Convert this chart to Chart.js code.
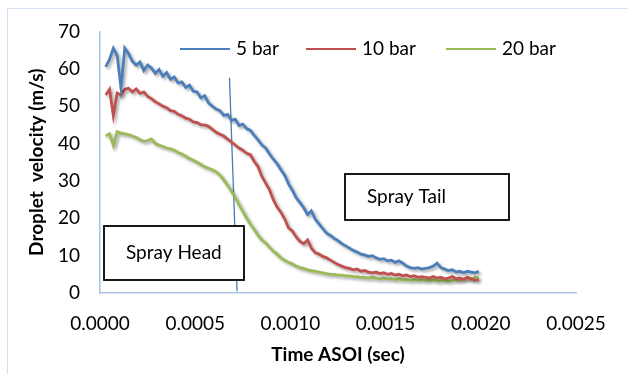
<!DOCTYPE html>
<html>
<head>
<meta charset="utf-8">
<script src="https://cdn.jsdelivr.net/npm/chart.js@4.4.1/dist/chart.umd.min.js"></script>
<style>
html,body{margin:0;padding:0;background:#fff;}
#wrap{position:relative;width:628px;height:374px;overflow:hidden;}
#frame{position:absolute;left:7px;top:8px;width:700px;height:500px;border-left:1px solid #d6e2f2;border-top:1px solid #d6e2f2;}
canvas{position:absolute;left:0;top:0;}
</style>
</head>
<body>
<div id="wrap">
<div id="frame"></div>
<canvas id="c" width="628" height="374"></canvas>
</div>
<script>
// time after start of injection, sec (one sample every 0.00002 s)
let times=[];
for(let i=0;i<99;i++) times.push(+(0.00003+i*0.00002).toFixed(5));

let bar5=[60.5,62.5,65.5,63.5,55.0,65.5,64.0,62.0,61.0,61.8,
59.5,61.0,60.2,58.8,59.8,58.0,59.0,57.2,57.8,56.2,
56.5,55.0,55.6,54.0,53.8,52.2,52.8,50.8,50.0,49.2,
48.8,47.5,47.8,46.2,46.5,44.8,45.2,44.0,43.5,42.2,
41.0,39.6,38.8,37.2,35.8,34.6,33.0,31.5,29.2,27.5,
25.5,24.2,22.8,21.0,22.0,19.8,18.5,17.2,16.0,15.4,
14.6,14.0,13.2,12.6,12.0,11.4,11.0,10.4,10.2,9.8,
10.0,9.4,9.0,9.2,8.6,8.8,8.2,8.6,8.0,7.2,
6.8,6.6,6.8,6.4,6.6,6.8,7.2,8.0,6.8,6.4,
6.0,6.2,5.6,5.8,5.4,5.8,5.6,5.4,5.8];

let bar10=[53.0,54.5,47.5,53.5,53.0,54.5,54.8,53.8,54.6,53.4,
53.8,52.6,52.0,51.2,50.6,50.0,49.6,48.8,48.6,47.8,
47.4,46.8,46.5,45.8,45.6,45.0,45.0,44.6,43.8,43.0,
42.5,42.0,41.2,40.4,39.6,38.8,38.2,37.4,37.0,35.2,
33.8,31.2,29.4,27.6,25.0,23.0,21.6,19.8,17.4,16.6,
15.0,13.8,13.2,14.2,12.0,10.8,10.4,9.8,9.4,8.8,
8.2,7.6,7.2,6.8,6.6,6.2,6.4,5.8,6.0,5.6,
5.4,5.6,5.2,5.4,5.0,5.2,4.8,5.0,4.6,4.8,
4.4,4.6,4.2,4.4,4.2,4.0,4.4,4.0,4.2,3.8,
4.0,4.4,3.8,4.0,3.6,4.2,3.8,3.4,3.6];

let bar20=[42.0,42.6,39.5,43.2,42.8,42.6,42.4,42.0,41.6,41.0,
40.6,40.8,41.2,40.0,39.6,39.2,38.8,38.6,38.2,37.6,
37.2,36.6,36.0,35.5,35.0,34.4,33.8,33.4,33.0,32.4,
31.6,30.2,28.8,27.2,25.6,23.6,21.8,20.0,18.4,17.0,
15.4,14.2,13.4,12.2,11.2,10.4,9.4,8.8,8.2,7.8,
7.2,6.8,6.6,6.2,6.0,5.8,5.6,5.4,5.2,5.0,
5.0,4.8,4.8,4.6,4.6,4.4,4.4,4.2,4.2,4.0,
4.2,4.0,3.8,4.0,3.8,3.8,3.6,3.8,3.6,3.6,
3.4,3.6,3.4,3.6,3.4,3.4,3.6,3.2,3.4,3.4,
3.2,3.4,3.6,3.4,3.8,4.0,3.6,4.2,4.0];

// head / tail divider line
let dividerT=[0.00068,0.00072];
let dividerV=[57.6,0.5];

let seriesNames=["5 bar","10 bar","20 bar"];
let seriesColors=["#4a7ebb","#c0504d","#9bbb59"];
let xTicks=[0,0.0005,0.001,0.0015,0.002,0.0025];

const FONT="Lato, 'Open Sans', sans-serif";

function pts(xs,ys){return xs.map((x,i)=>({x:x,y:ys[i]}));}

let datasets=[bar5,bar10,bar20].map((s,k)=>({
    label:seriesNames[k],data:pts(times,s),borderColor:seriesColors[k],
    backgroundColor:seriesColors[k],borderWidth:2.8,pointRadius:0,tension:0,shadow:true
}));
datasets.push({label:"divider",data:pts(dividerT,dividerV),borderColor:"#4a7ebb",borderWidth:1.3,pointRadius:0});

// Excel-like soft shadow under the three curves
let shadowPlugin={
    id:"shadow",
    beforeDatasetDraw(chart,args){
        if(!chart.data.datasets[args.index].shadow) return;
        let ctx=chart.ctx;
        ctx.save();
        ctx.shadowColor="rgba(0,0,0,0.35)";
        ctx.shadowBlur=3;
        ctx.shadowOffsetX=2;
        ctx.shadowOffsetY=2;
    },
    afterDatasetDraw(chart,args){
        if(!chart.data.datasets[args.index].shadow) return;
        chart.ctx.restore();
    }
};

// legend line + label, and the two text boxes
let extrasPlugin={
    id:"extras",
    afterDraw(chart){
        let ctx=chart.ctx;
        ctx.save();
        let lx=[180,306,446];
        ctx.font="19px "+FONT;
        ctx.textBaseline="middle";
        seriesNames.forEach((n,k)=>{
            ctx.strokeStyle=seriesColors[k];
            ctx.lineWidth=2.2;
            ctx.beginPath();ctx.moveTo(lx[k],49);ctx.lineTo(lx[k]+50,49);ctx.stroke();
            ctx.fillStyle="#000";
            ctx.fillText(n,lx[k]+56,49);
        });
        let boxes=[
            {t:"Spray Head",x:104,y:226,w:140,h:54},
            {t:"Spray Tail",x:345,y:174,w:164,h:46}
        ];
        boxes.forEach(b=>{
            ctx.fillStyle="#fff";
            ctx.fillRect(b.x,b.y,b.w,b.h);
            ctx.strokeStyle="#000";
            ctx.lineWidth=1.8;
            ctx.strokeRect(b.x,b.y,b.w,b.h);
            ctx.fillStyle="#000";
            ctx.fillText(b.t,b.x+22,b.y+b.h/2);
        });
        ctx.restore();
    }
};

new Chart(document.getElementById("c"),{
    type:"line",
    data:{datasets:datasets},
    plugins:[shadowPlugin,extrasPlugin],
    options:{
        responsive:false,
        animation:false,
        layout:{padding:{left:0,right:52,top:27,bottom:0}},
        plugins:{legend:{display:false},tooltip:{enabled:false}},
        scales:{
            x:{
                type:"linear",min:0,max:0.0025,
                afterFit(s){s.height=81;},
                afterBuildTicks(s){s.ticks=xTicks.map(v=>({value:v}));},
                grid:{display:false,drawTicks:false},
                border:{display:true,color:"#a9c4e8",width:1.5},
                ticks:{padding:19,color:"#000",font:{family:FONT,size:19},callback:v=>v.toFixed(4)},
                title:{display:true,text:"Time ASOI (sec)",color:"#000",font:{family:FONT,size:19,weight:"bold"},padding:{top:0,bottom:8}}
            },
            y:{
                min:0,max:70,
                afterFit(s){s.width=100;},
                grid:{display:false,drawTicks:false},
                border:{display:true,color:"#a9c4e8",width:1.5},
                ticks:{stepSize:10,padding:20,color:"#000",font:{family:FONT,size:19}},
                title:{display:true,text:"Droplet  velocity (m/s)",color:"#000",font:{family:FONT,size:19,weight:"bold"},padding:{top:25,bottom:0}}
            }
        }
    }
});
</script>
</body>
</html>
